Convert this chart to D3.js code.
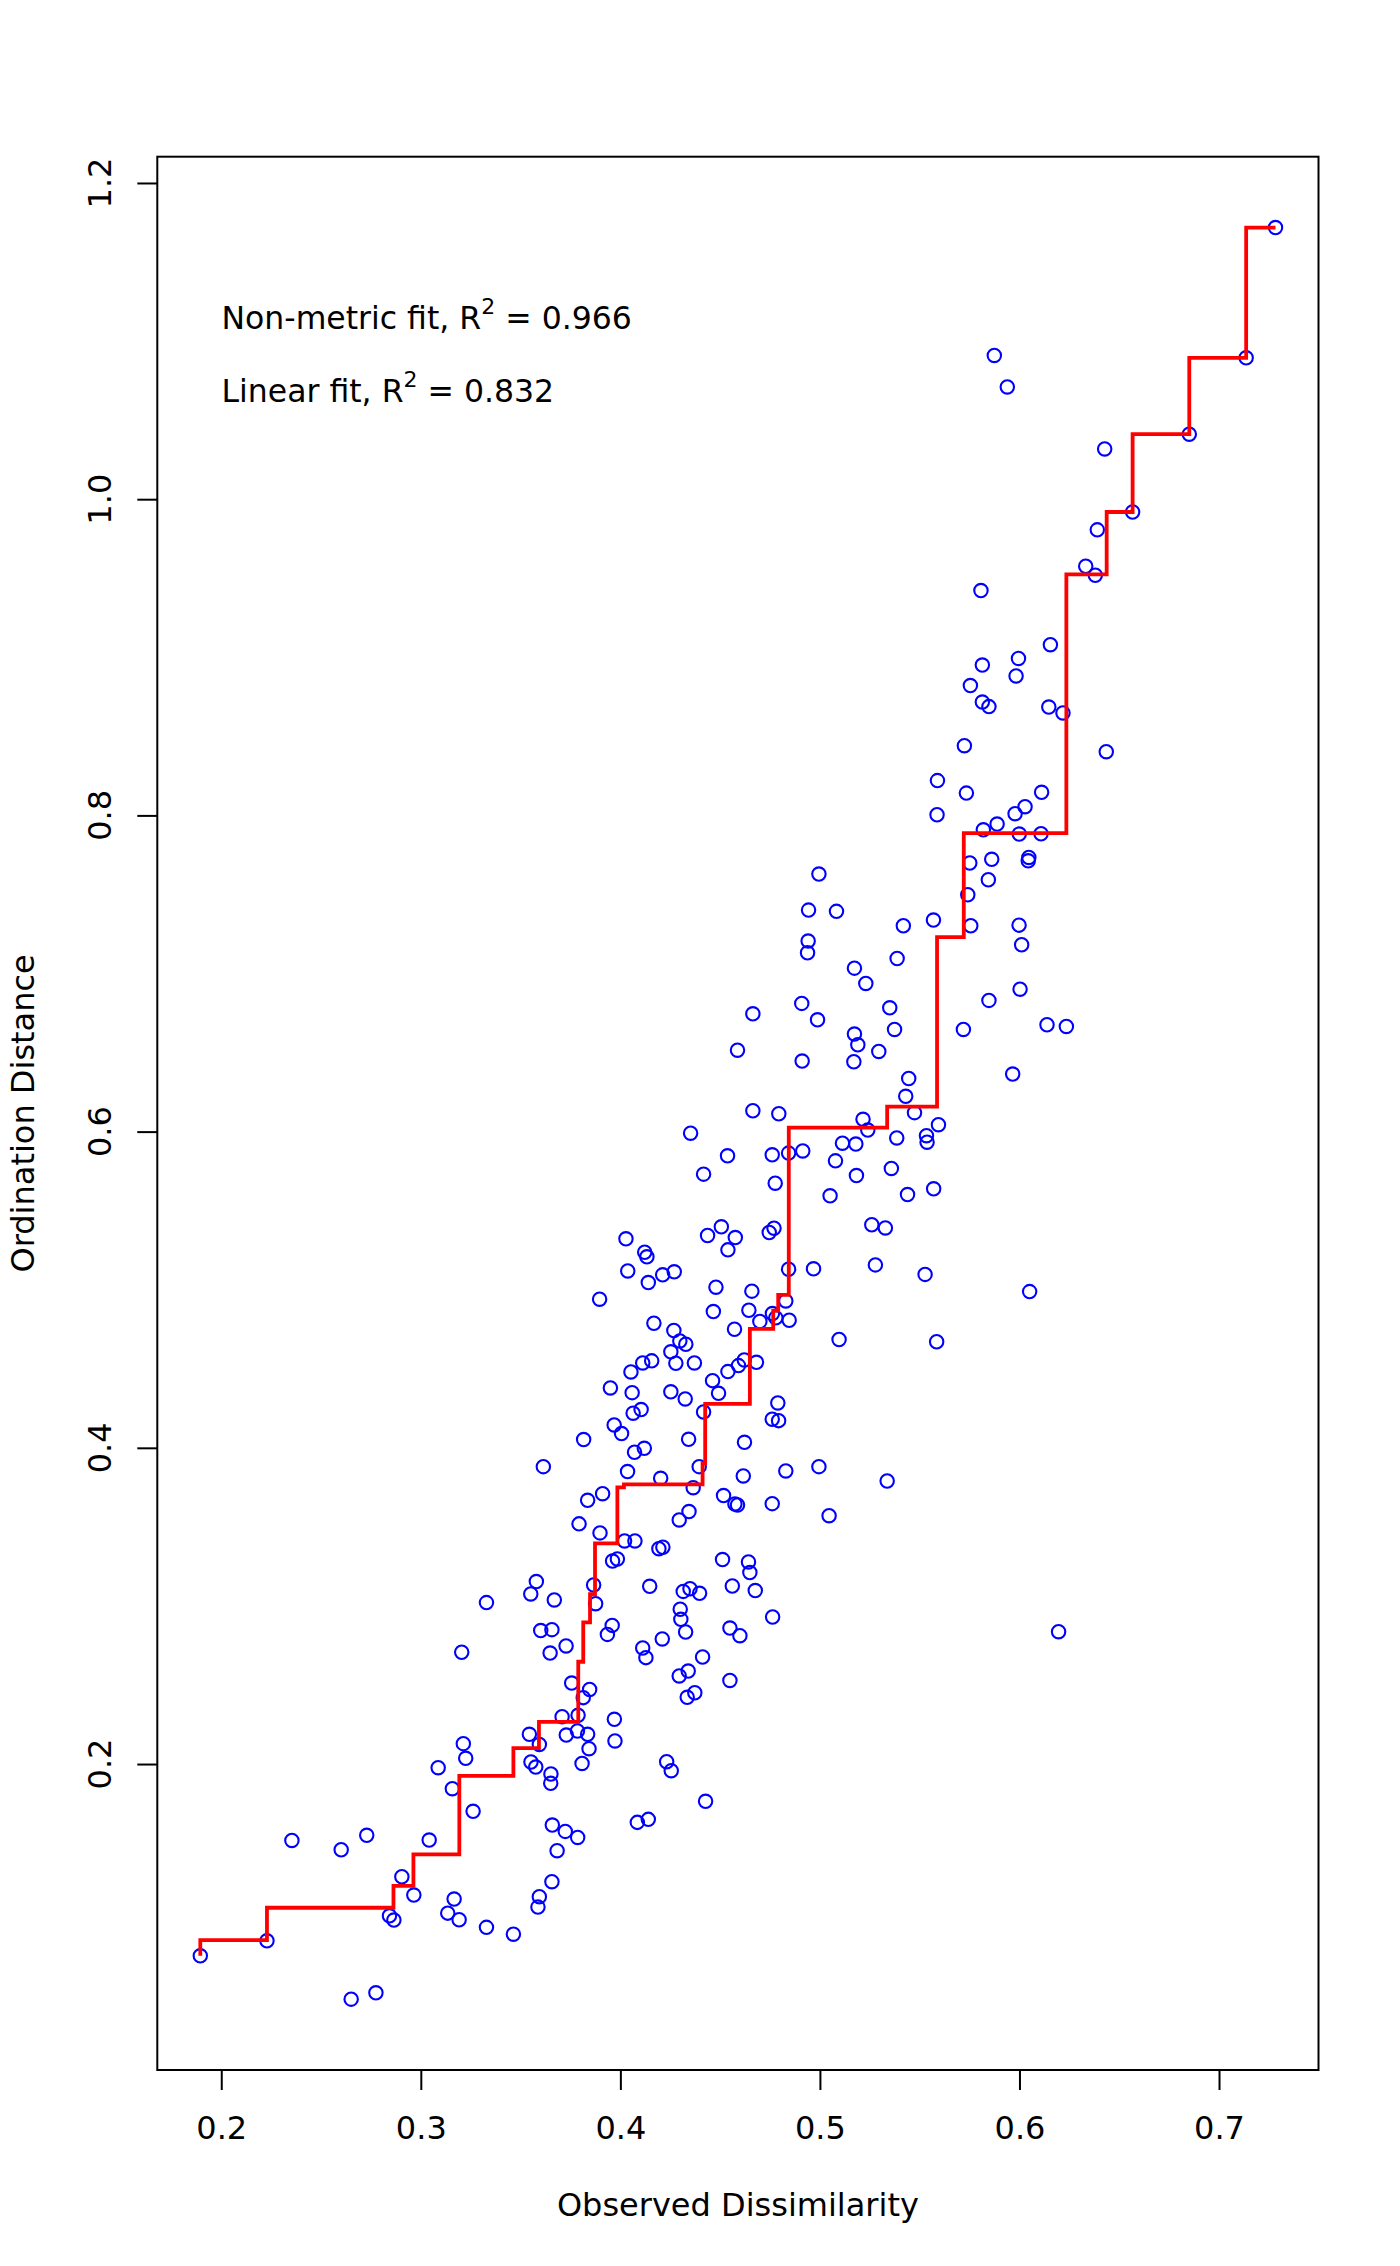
<!DOCTYPE html>
<html>
<head>
<meta charset="utf-8">
<script src="https://cdn.jsdelivr.net/npm/d3@7"></script>
<style>
  html, body { margin: 0; padding: 0; background: #ffffff; }
  svg { display: block; }
</style>
</head>
<body>
<script>
// ---------------- DATA ----------------
const obsDissimilarity = [
  0.1895,0.2229,0.2354,0.2601,0.2729,0.2651,0.2775,0.2843,0.2865,0.2905,0.2965,0.3042,0.3087,0.3158,0.3213,0.3225,0.3262,0.3167,0.3135,0.3192,0.3329,0.3464,0.3544,0.3594,0.3552,0.3576,0.3652,0.3651,0.3659,0.3724,0.3786,0.3683,0.3657,0.3594,0.3587,0.3708,0.3788,0.3729,0.3785,0.3836,0.3843,0.3808,
  0.3614,0.4036,0.4395,0.4202,0.4616,0.4829,0.4995,0.3911,0.3836,0.4365,0.4517,0.4574,0.4587,0.4761,0.4344,0.4295,0.3793,0.3898,0.4021,0.4073,0.4193,0.4213,0.3961,0.3985,0.4512,0.4642,0.4649,0.3579,0.3551,0.3669,0.3329,0.3866,0.3876,0.4147,0.4315,0.4349,0.4397,0.4561,0.4676,0.4300,0.4303,0.4327,0.4549,0.4599,0.4763,0.3601,0.3657,0.3959,0.3935,0.4210,0.3205,0.3648,0.3728,0.4112,0.4128,0.4412,0.4295,0.4340,0.4549,0.3756,0.3846,0.3814,0.4335,0.4373,0.3970,0.3973,0.4232,0.4255,0.4427,0.4085,0.4140,
  0.4664,0.4794,0.4352,0.4537,0.4761,0.4843,0.4914,0.5113,0.5180,0.5078,0.5183,0.4417,0.4776,0.5051,0.4437,0.4506,0.4576,0.4539,0.4746,0.4770,0.4028,0.4122,0.4133,0.4037,0.4140,0.4212,0.4270,0.4843,0.4968,0.3896,0.4479,0.4659,0.4466,0.4644,0.4829,0.4762,0.4779,0.4846,0.4699,0.4572,0.5096,0.4168,0.4268,0.4298,0.4328,0.4253,0.4278,0.4371,0.4112,0.4157,0.4053,0.3950,0.4059,0.4064,0.4104,0.3969,0.4006,0.3816,0.4071,0.4120,0.4342,0.4622,0.4253,0.4325,0.4417,0.4462,0.4492,0.4539,0.4592,0.4621,0.4682,0.4789,0.4761,0.4793,
  0.5430,0.5474,0.5216,0.5240,0.5385,0.5594,0.5534,0.5537,0.5358,0.5439,0.5570,0.5260,0.5328,0.5278,0.5527,0.6051,0.5585,0.5337,0.6196,0.5046,
  0.5587,0.4995,0.4943,0.5083,0.5418,0.5569,0.5756,0.5998,0.6011,0.4941,0.4938,0.5387,0.5173,0.5230,0.6003,0.5847,0.4909,0.4664,0.4988,0.5350,0.5374,0.5173,0.5190,0.5295,0.5719,0.6138,0.6235,0.4587,0.4911,0.5170,0.5966,0.5445,
  0.6332,0.6380,0.5807,0.6155,0.5995,0.5814,0.5983,0.5754,0.5814,0.5847,0.6147,0.6218,0.5724,0.6435,0.5589,0.5734,0.6111,0.6028,0.5978,0.5888,0.5819,0.5999,0.6108,0.5751,0.5861,0.6047,0.6044,0.5844,0.5741,
  0.7283,0.7136,0.5874,0.5939,0.6851,0.6427,0.6567,0.6390
];
const ordinationDistance = [
  0.0787,0.0882,0.1517,0.1458,0.1549,0.0513,0.0553,0.1040,0.1013,0.1287,0.1171,0.1519,0.1977,0.1844,0.2129,0.2036,0.1701,0.1146,0.1057,0.1015,0.0967,0.0924,0.2188,0.2124,0.2013,0.1981,0.1937,0.1878,0.1614,0.1574,0.1536,0.1452,0.1256,0.1161,0.1095,0.2299,0.2308,0.2183,0.2209,0.2188,0.2097,0.2004,
  0.3881,0.3850,0.3881,0.3807,0.3822,0.3854,0.3881,0.3710,0.3668,0.3748,0.3698,0.3645,0.3639,0.3647,0.3597,0.3544,0.3519,0.3462,0.3411,0.3411,0.3362,0.3371,0.3284,0.3297,0.3293,0.3278,0.3211,0.3154,0.3076,0.3038,0.3021,0.3133,0.3014,0.3124,0.3092,0.3109,0.3080,0.3126,0.3097,0.2979,0.2915,0.2835,0.2860,0.2812,0.2930,0.2844,0.2850,0.2877,0.2820,0.2791,0.2707,0.2702,0.2747,0.2734,0.2673,0.2677,0.2557,0.2588,0.2529,0.2512,0.2472,0.2420,0.2422,0.2451,0.2283,0.2146,0.2015,0.1958,0.1764,0.1631,0.1650,
  0.6132,0.6113,0.5990,0.5847,0.5853,0.5864,0.5878,0.5927,0.5921,0.5815,0.5722,0.5731,0.5674,0.5594,0.5343,0.5398,0.5330,0.5252,0.5362,0.5389,0.5322,0.5237,0.5208,0.5119,0.5045,0.5094,0.5113,0.5130,0.5132,0.4940,0.5016,0.4991,0.4862,0.4870,0.4929,0.4849,0.4822,0.4807,0.4799,0.4750,0.4685,0.4788,0.4742,0.4676,0.4655,0.4607,0.4535,0.4537,0.4537,0.4550,0.4480,0.4379,0.4349,0.4219,0.4242,0.4145,0.4090,0.4052,0.3972,0.3997,0.4054,0.4035,0.4354,0.4309,0.4227,0.4425,0.4345,0.4482,0.4520,0.4556,0.4541,0.4284,0.4181,0.4172,
  0.6223,0.6120,0.6078,0.6010,0.5960,0.6044,0.5974,0.5933,0.5767,0.5602,0.5638,0.5411,0.5391,0.5157,0.5097,0.4988,0.4671,0.3790,0.2837,0.3571,
  0.8004,0.7629,0.7401,0.7393,0.7302,0.7338,0.7302,0.7306,0.7182,0.7205,0.7131,0.7095,0.7034,0.6937,0.6901,0.6830,0.6811,0.6745,0.6707,0.6783,0.6646,0.6617,0.6549,0.6507,0.6646,0.6676,0.6665,0.6515,0.6446,0.6442,0.6364,0.6336,
  0.9576,0.9519,0.9422,0.9080,0.8993,0.8951,0.8882,0.8821,0.8717,0.8688,0.8685,0.8648,0.8441,0.8403,0.8220,0.8141,0.8146,0.8055,0.8011,0.7945,0.7909,0.7882,0.7884,0.7699,0.7722,0.7734,0.7713,0.7593,0.7498,
  1.1718,1.0894,1.0909,1.0710,1.0411,1.0318,0.9919,0.9806
];
// Monotone (non-metric) step fit
const stepX = [0.1895,0.1895,0.2229,0.2863,0.2963,0.3193,0.3464,0.3592,0.3789,0.3814,0.3848,0.3873,0.3985,0.4018,0.4412,0.4425,0.4649,0.4766,0.4791,0.4844,0.5337,0.5587,0.5721,0.6235,0.6437,0.6567,0.6851,0.7136,0.7283];
const stepY = [0.0787,0.0886,0.1091,0.1230,0.1428,0.1925,0.2101,0.2267,0.2647,0.2896,0.3074,0.3396,0.3750,0.3769,0.3902,0.4278,0.4752,0.4868,0.4967,0.6025,0.6158,0.7230,0.7888,0.9525,0.9919,1.0411,1.0894,1.1718,1.1718];
const xTicks = [0.2, 0.3, 0.4, 0.5, 0.6, 0.7];
const yTicks = [0.2, 0.4, 0.6, 0.8, 1.0, 1.2];
const fitLabels = ["Non-metric fit", "Linear fit"];
const fitR2 = [0.966, 0.832];
const xTitle = "Observed Dissimilarity";
const yTitle = "Ordination Distance";

// ---------------- LAYOUT ----------------
const W = 1400, H = 2266;
const box = { left: 157.3, right: 1318.5, top: 156.7, bottom: 2070 };
const FONT = "'DejaVu Sans', sans-serif";
const FS = 32;
const FS_ANN = 31.5;

const points = obsDissimilarity.map((d, i) => ({ x: d, y: ordinationDistance[i] }));
const stepPts = stepX.map((d, i) => ({ x: d, y: stepY[i] }));

// R-style 4% padded domains
function padExtent(arr) {
  const [a, b] = d3.extent(arr);
  const p = (b - a) * 0.04;
  return [a - p, b + p];
}
const x = d3.scaleLinear().domain(padExtent(obsDissimilarity)).range([box.left, box.right]);
const y = d3.scaleLinear().domain(padExtent(ordinationDistance)).range([box.bottom, box.top]);

const svg = d3.select("body").append("svg")
  .attr("width", W).attr("height", H)
  .attr("viewBox", `0 0 ${W} ${H}`);
svg.append("rect").attr("width", W).attr("height", H).attr("fill", "#ffffff");

// points
svg.append("g").selectAll("circle").data(points).join("circle")
  .attr("cx", d => x(d.x)).attr("cy", d => y(d.y))
  .attr("r", 6.7)
  .attr("fill", "none")
  .attr("stroke", "#0000ff")
  .attr("stroke-width", 2.1);

// step line
svg.append("path")
  .datum(stepPts)
  .attr("d", d3.line().x(d => x(d.x)).y(d => y(d.y)).curve(d3.curveStepAfter))
  .attr("fill", "none")
  .attr("stroke", "#ff0000")
  .attr("stroke-width", 3.8)
  .attr("stroke-linejoin", "miter")
  .attr("stroke-linecap", "butt");

// box
svg.append("rect")
  .attr("x", box.left).attr("y", box.top)
  .attr("width", box.right - box.left).attr("height", box.bottom - box.top)
  .attr("fill", "none").attr("stroke", "#000").attr("stroke-width", 2);

// x axis
const gx = svg.append("g")
  .attr("transform", `translate(0,${box.bottom})`)
  .call(d3.axisBottom(x).tickValues(xTicks).tickSize(20).tickPadding(26).tickFormat(d3.format(".1f")));
gx.select(".domain").remove();
gx.selectAll(".tick line").attr("stroke", "#000").attr("stroke-width", 2);
gx.selectAll(".tick text").attr("fill", "#000").style("font-family", FONT).style("font-size", FS + "px");

// y axis
const gy = svg.append("g")
  .attr("transform", `translate(${box.left},0)`)
  .call(d3.axisLeft(y).tickValues(yTicks).tickSize(20).tickFormat(""));
gy.select(".domain").remove();
gy.selectAll(".tick line").attr("stroke", "#000").attr("stroke-width", 2);
gy.selectAll(".tick text").remove();
svg.append("g").selectAll("text").data(yTicks).join("text")
  .attr("transform", d => `translate(111,${y(d)}) rotate(-90)`)
  .attr("text-anchor", "middle")
  .style("font-family", FONT).style("font-size", FS + "px")
  .attr("fill", "#000")
  .text(d => d3.format(".1f")(d));

// axis titles
svg.append("text")
  .attr("x", (box.left + box.right) / 2).attr("y", 2216)
  .attr("text-anchor", "middle")
  .style("font-family", FONT).style("font-size", FS + "px")
  .text(xTitle);
svg.append("text")
  .attr("transform", `translate(34,${(box.top + box.bottom) / 2}) rotate(-90)`)
  .attr("text-anchor", "middle")
  .style("font-family", FONT).style("font-size", FS + "px")
  .text(yTitle);

// fit annotations
const ann = svg.append("g");
const baselines = [329, 402];
fitLabels.forEach((lab, i) => {
  const t = ann.append("text")
    .attr("x", 221.5).attr("y", baselines[i])
    .style("font-family", FONT).style("font-size", FS_ANN + "px")
    .attr("fill", "#000");
  t.append("tspan").text(lab + ", R");
  t.append("tspan").attr("dy", -15).style("font-size", "22px").text("2");
  t.append("tspan").attr("dy", 15).text(" = " + d3.format(".3f")(fitR2[i]));
});
</script>
</body>
</html>
